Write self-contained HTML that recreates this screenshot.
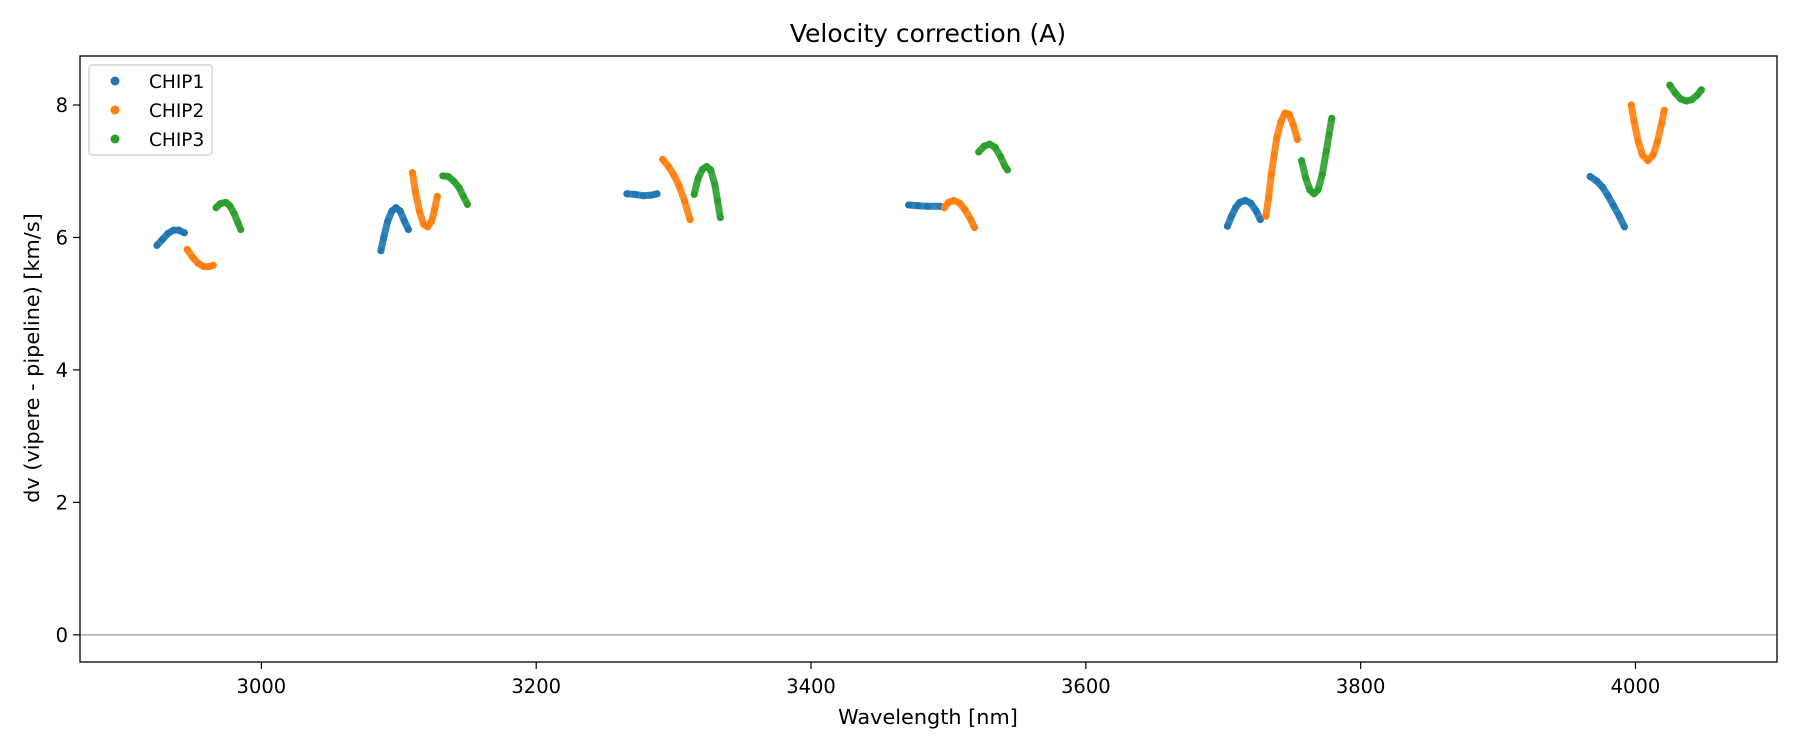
<!DOCTYPE html>
<html><head><meta charset="utf-8"><style>
html,body{margin:0;padding:0;background:#fff;}
svg{display:block;font-family:"DejaVu Sans","Liberation Sans",sans-serif;}
</style></head><body>
<svg id="chart" width="1800" height="750" viewBox="0 0 1800 750">
<rect width="1800" height="750" fill="#fff"/>
<text x="928" y="42" font-size="25" text-anchor="middle" fill="#000">Velocity correction (A)</text>
<g id="zero"></g>
<g id="series"></g>
<g id="axes"></g>
<text x="928" y="724" font-size="20.8" text-anchor="middle" fill="#000">Wavelength [nm]</text>
<text transform="translate(39,358) rotate(-90)" font-size="20.8" text-anchor="middle" fill="#000">dv (vipere - pipeline) [km/s]</text>
<g>
<rect x="89" y="65" width="123" height="90" rx="3" fill="#fff" fill-opacity="0.8" stroke="#ccc" stroke-width="1.2"/>
<g><circle cx="115" cy="81" r="4.5" fill="#1f77b4"/><text x="149" y="88" font-size="18.5">CHIP1</text></g>
<g><circle cx="115" cy="110" r="4.5" fill="#ff7f0e"/><text x="149" y="117" font-size="18.5">CHIP2</text></g>
<g><circle cx="115" cy="139" r="4.5" fill="#2ca02c"/><text x="149" y="146" font-size="18.5">CHIP3</text></g>
</g>
</svg>
<script>
const xTicks = [3000, 3200, 3400, 3600, 3800, 4000];
const yTicks = [0, 2, 4, 6, 8];
const chipNames = ["CHIP1", "CHIP2", "CHIP3"];
const chipColors = ["#1f77b4", "#ff7f0e", "#2ca02c"];
const chip1Wl = [
 [2924,2928,2932,2936,2940,2944],
 [3087,3089,3092,3095,3098,3101,3104,3107],
 [3266,3272,3278,3284,3288],
 [3471,3478,3485,3494],
 [3703,3706,3709,3712,3716,3720,3724,3727],
 [3967,3972,3976,3980,3984,3988,3992]
];
const chip1Dv = [
 [5.88,5.97,6.06,6.11,6.11,6.07],
 [5.80,6.00,6.25,6.40,6.45,6.40,6.25,6.12],
 [6.66,6.65,6.63,6.64,6.66],
 [6.49,6.48,6.47,6.47],
 [6.17,6.32,6.45,6.53,6.56,6.52,6.40,6.27],
 [6.92,6.85,6.76,6.63,6.48,6.33,6.16]
];
const chip2Wl = [
 [2946,2950,2954,2958,2962,2965],
 [3110,3112,3115,3118,3121,3124,3126,3128],
 [3292,3296,3300,3304,3308,3312],
 [3497,3500,3504,3508,3512,3516,3519],
 [3731,3733,3735,3737,3739,3742,3745,3748,3751,3754],
 [3997,3999,4002,4005,4009,4013,4016,4019,4021]
];
const chip2Dv = [
 [5.82,5.70,5.61,5.56,5.56,5.58],
 [6.98,6.70,6.40,6.20,6.16,6.25,6.42,6.62],
 [7.18,7.08,6.95,6.78,6.55,6.27],
 [6.45,6.53,6.56,6.52,6.42,6.28,6.15],
 [6.32,6.60,6.95,7.25,7.50,7.75,7.88,7.86,7.70,7.48],
 [8.00,7.75,7.45,7.25,7.16,7.25,7.45,7.72,7.92]
];
const chip3Wl = [
 [2967,2970,2974,2977,2980,2983,2985],
 [3132,3136,3140,3144,3147,3150],
 [3315,3318,3321,3324,3327,3330,3332,3334],
 [3522,3526,3530,3534,3538,3541,3543],
 [3757,3760,3763,3766,3769,3772,3775,3777,3779],
 [4025,4029,4033,4037,4041,4045,4048]
];
const chip3Dv = [
 [6.45,6.51,6.53,6.48,6.37,6.22,6.12],
 [6.93,6.92,6.85,6.75,6.62,6.50],
 [6.65,6.90,7.03,7.07,7.02,6.80,6.55,6.30],
 [7.29,7.38,7.41,7.36,7.22,7.08,7.02],
 [7.16,6.90,6.72,6.66,6.72,6.95,7.30,7.55,7.80],
 [8.30,8.18,8.09,8.06,8.08,8.15,8.23]
];

const NS = "http://www.w3.org/2000/svg";
const L = 80, R = 1777, T = 56, B = 662;
const xMin = 2868, xMax = 4103, yMin = -0.41, yMax = 8.74;
function xs(v){ return L + (v - xMin) / (xMax - xMin) * (R - L); }
function ys(v){ return B - (v - yMin) / (yMax - yMin) * (B - T); }
function mk(tag, attrs, parent){ const e = document.createElementNS(NS, tag); for (const k in attrs) e.setAttribute(k, attrs[k]); parent.appendChild(e); return e; }

const zg = document.getElementById('zero');
const zl = mk('line', {x1:L, x2:R, y1:ys(0), y2:ys(0), stroke:'#808080', 'stroke-width':1}, zg);



const sg = document.getElementById('series');
const allWl = [chip1Wl, chip2Wl, chip3Wl];
const allDv = [chip1Dv, chip2Dv, chip3Dv];
for (let c = 0; c < 3; c++) {
  const g = mk('g', {}, sg);
  
  
  for (let s = 0; s < allWl[c].length; s++) {
    const wl = allWl[c][s], dv = allDv[c][s];
    const pts = wl.map((w, i) => xs(w).toFixed(1) + ',' + ys(dv[i]).toFixed(1)).join(' ');
    const pl = mk('polyline', {points: pts, fill:'none', stroke: chipColors[c], 'stroke-width':7, 'stroke-linecap':'round', 'stroke-linejoin':'round', opacity:0.9}, g);
    
    
    wl.forEach((w, i) => {
      const p = mk('circle', {cx: xs(w), cy: ys(dv[i]), r: 3.5, fill: chipColors[c]}, g);
      
      
    });
  }
}

const ag = document.getElementById('axes');
const frame = mk('rect', {x:L, y:T, width:R-L, height:B-T, fill:'none', stroke:'#000', 'stroke-width':1.3}, ag);


xTicks.forEach(t => {
  const x = xs(t);
  const tk = mk('line', {x1:x, x2:x, y1:B, y2:B+7, stroke:'#000', 'stroke-width':1.2}, ag);
  
  
  const lb = mk('text', {x:x, y:B+31, 'font-size':19.5, 'text-anchor':'middle', fill:'#000'}, ag);
  lb.textContent = t;
  
  
});
yTicks.forEach(t => {
  const y = ys(t);
  const tk = mk('line', {x1:L-7, x2:L, y1:y, y2:y, stroke:'#000', 'stroke-width':1.2}, ag);
  
  
  const lb = mk('text', {x:L-12, y:y+7, 'font-size':19.5, 'text-anchor':'end', fill:'#000'}, ag);
  lb.textContent = t;
  
  
});
</script>
</body></html>
